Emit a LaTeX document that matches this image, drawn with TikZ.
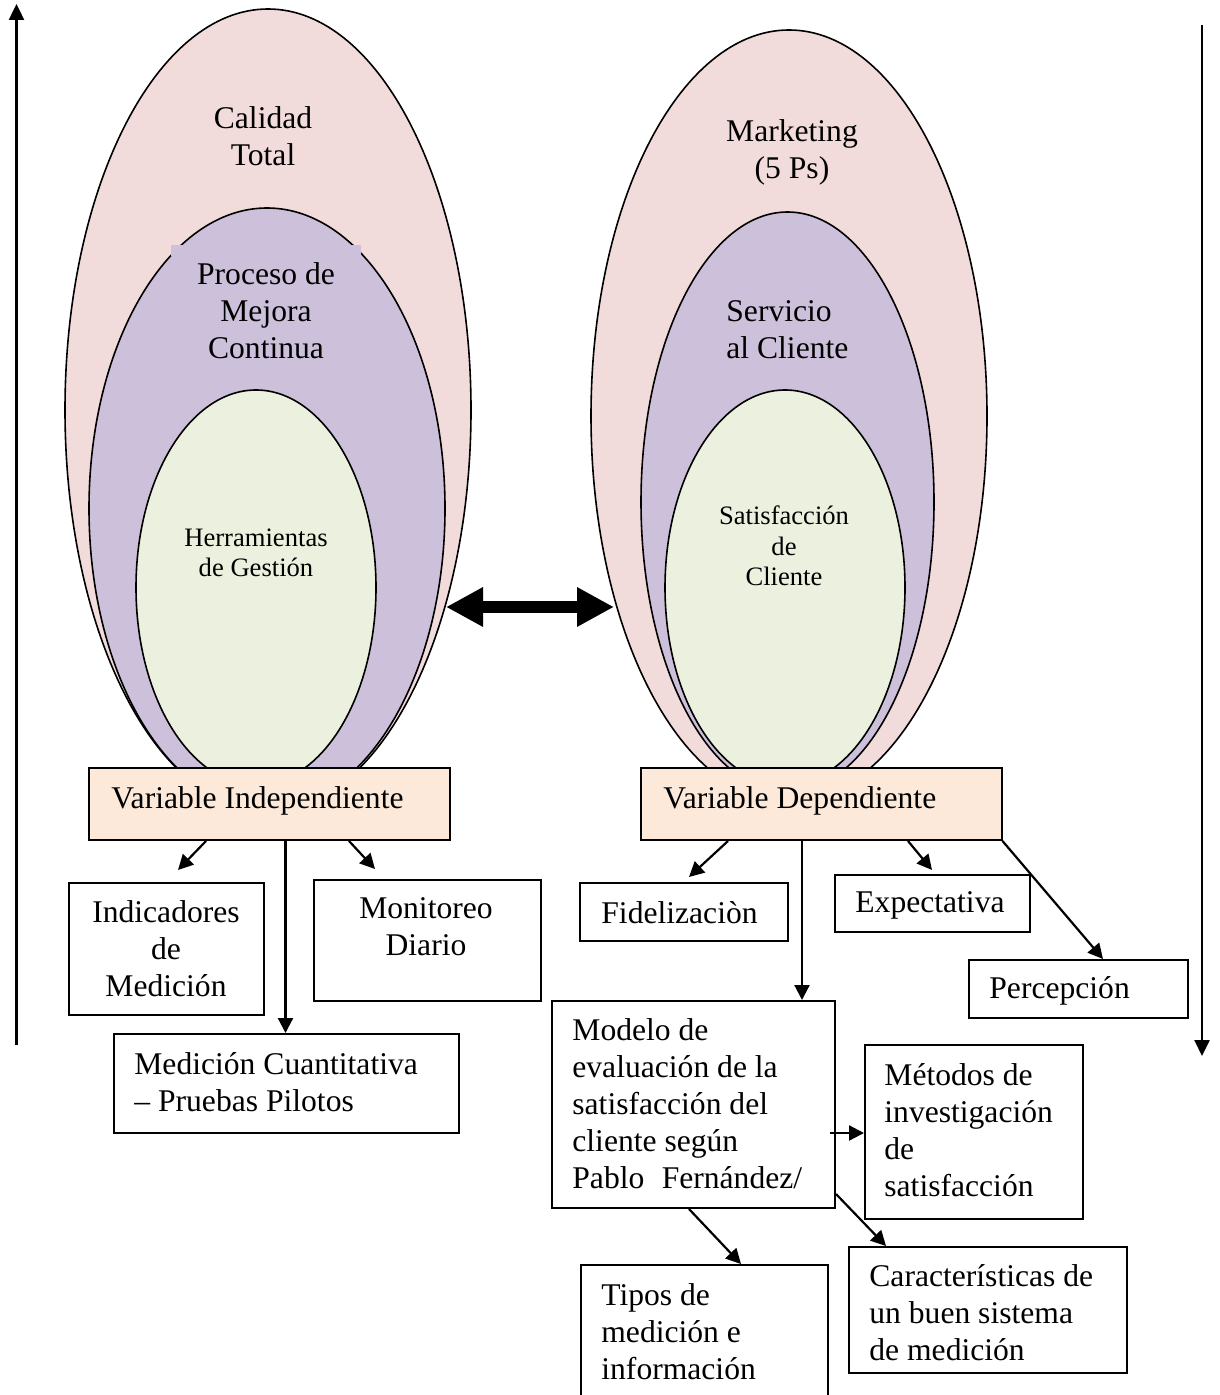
\documentclass[tikz,border=0pt]{standalone}
\usepackage{fontspec}
\setmainfont{Liberation Serif}
\usetikzlibrary{arrows.meta,shapes.geometric}
\definecolor{pinkF}{HTML}{F2DCDB}
\definecolor{purpF}{HTML}{CCC0DA}
\definecolor{greenF}{HTML}{EBF1DE}
\definecolor{peachF}{HTML}{FDE9D9}
\begin{document}
\begin{tikzpicture}[x=0.5pt,y=-0.5pt,
  oval/.style={ellipse, draw=black, line width=0.8pt, inner sep=0pt, outer sep=0pt},
  boxnode/.style={draw=black, line width=1pt, fill=white, anchor=north west, inner sep=0pt},
  bigtxt/.style={font=\fontsize{15.8}{18.5}\selectfont, inner sep=0pt, align=center},
  smalltxt/.style={font=\fontsize{13.3}{15.3}\selectfont, inner sep=0pt, align=center},
  lefttxt/.style={font=\fontsize{15.8}{18.5}\selectfont, inner sep=0pt, align=left, anchor=west},
  arr/.style={-{Triangle[length=7.5pt,width=7.5pt]}, line width=1.1pt},
  longarr/.style={-{Triangle[length=8pt,width=7.5pt]}, line width=1.2pt},
  dblarr/.style={{Triangle[length=18.5pt,width=18.5pt]}-{Triangle[length=18.5pt,width=18.5pt]}, line width=6pt},
  ]
\useasboundingbox (0,0) rectangle (1219,1395);

% long side arrows
\coordinate (L1) at (16.5,1045);
\coordinate (L2) at (16.5,4);
\coordinate (R1) at (1202,25);
\coordinate (R2) at (1202,1056);
\draw[longarr] (L1) -- (L2);
\draw[longarr] (R1) -- (R2);

% left ellipses
\node[oval, fill=pinkF, minimum width=203pt, minimum height=401pt] (pL) at (268,410) {};
\node[oval, fill=purpF, minimum width=178pt, minimum height=300.5pt] (uL) at (267,508.5) {};
\fill[purpF] (171,245) rectangle (361,256);
\node[oval, fill=greenF, minimum width=120pt, minimum height=197.5pt] (gL) at (256,587.5) {};

% right ellipses
\node[oval, fill=pinkF, minimum width=198pt, minimum height=386pt] (pR) at (789,416) {};
\node[oval, fill=purpF, minimum width=146.5pt, minimum height=290pt] (uR) at (787.5,502) {};
\node[oval, fill=greenF, minimum width=120pt, minimum height=197.5pt] (gR) at (785,587.5) {};

% double arrow
\coordinate (dA) at (446,607);
\coordinate (dB) at (614,607);
\draw[dblarr] (dA) -- (dB);

% ellipse texts
\node[bigtxt] (tCal) at (263,136) {Calidad\\Total};
\node[bigtxt] (tPro) at (266,311) {Proceso de\\Mejora\\Continua};
\node[smalltxt] (tHer) at (256,553) {Herramientas\\de Gestión};
\node[bigtxt] (tMkt) at (792,152) {Marketing\\(5 Ps)};
\node[lefttxt] (tSer) at (726,330) {Servicio\\al Cliente};
\node[smalltxt] (tSat) at (784,546) {Satisfacción\\de\\Cliente};

% variable boxes
\node[boxnode, fill=peachF, minimum width=180.5pt, minimum height=36pt] (vi) at (88,767) {};
\node[boxnode, fill=peachF, minimum width=180.25pt, minimum height=36pt] (vd) at (640,767) {};
\node[lefttxt] (tvi) at (111,801) {Variable Independiente};
\node[lefttxt] (tvd) at (663,801) {Variable Dependiente};

% left lower boxes
\node[boxnode, minimum width=97.5pt, minimum height=66pt] (ind) at (68,882) {};
\node[boxnode, minimum width=113.5pt, minimum height=60.5pt] (mon) at (313,879) {};
\node[boxnode, minimum width=172.25pt, minimum height=49.5pt] (med) at (113,1033) {};
\node[bigtxt] (tind) at (166,949) {Indicadores\\de\\Medición};
\node[bigtxt] (tmon) at (426,927) {Monitoreo\\Diario};
\node[lefttxt] (tmed) at (134,1082) {Medición Cuantitativa\\– Pruebas Pilotos};

% right lower boxes
\node[boxnode, minimum width=104pt, minimum height=29pt] (fid) at (579,882) {};
\node[boxnode, minimum width=97.5pt, minimum height=28.5pt] (exp) at (834,874) {};
\node[boxnode, minimum width=109.5pt, minimum height=29pt] (per) at (968,959) {};
\node[boxnode, minimum width=141.5pt, minimum height=103.5pt] (mod) at (551,1000) {};
\node[boxnode, minimum width=109pt, minimum height=87pt] (met) at (864,1044) {};
\node[boxnode, minimum width=139pt, minimum height=63pt] (car) at (848,1246) {};
\node[boxnode, minimum width=123.5pt, minimum height=70pt] (tip) at (580,1264) {};
\node[lefttxt] (tfid) at (601,913) {Fidelizaciòn};
\node[lefttxt] (texp) at (855,905) {Expectativa};
\node[lefttxt] (tper) at (989,991) {Percepción};
\node[lefttxt] (tmod) at (572,1104) {Modelo de\\evaluación de la\\satisfacción del\\cliente según\\Pablo\hspace{0.55em}Fernández/};
\node[lefttxt] (tmet) at (884,1130) {Métodos de\\investigación\\de\\satisfacción};
\node[lefttxt] (tcar) at (869,1313) {Características de\\un buen sistema\\de medición};
\node[lefttxt] (ttip) at (601,1332) {Tipos de\\medición e\\información};

% left connectors
\coordinate (e1) at (178,870);
\coordinate (e3) at (375,869);
\draw[arr] ([xshift=59pt]vi.south west) -- (e1);
\draw[arr] ([xshift=98.75pt]vi.south west) -- ([xshift=86.25pt]med.north west);
\draw[arr] ([xshift=130.5pt]vi.south west) -- (e3);

% right connectors
\coordinate (f1) at (689,877);
\coordinate (f3) at (932,870);
\draw[arr] ([xshift=44pt]vd.south west) -- (f1);
\draw[arr] ([xshift=81pt]vd.south west) -- ([xshift=125.5pt]mod.north west);
\draw[arr] ([xshift=134pt]vd.south west) -- (f3);
\draw[arr] (vd.south east) -- ([xshift=67.5pt]per.north west);
\draw[arr] ([xshift=-3pt,yshift=-66.5pt]mod.north east) -- ([yshift=-44.5pt]met.north west);
\draw[arr] ([xshift=69pt]mod.south west) -- ([xshift=80.5pt]tip.north west);
\draw[arr] ([yshift=7.5pt]mod.south east) -- ([xshift=19pt]car.north west);
\end{tikzpicture}
\end{document}
